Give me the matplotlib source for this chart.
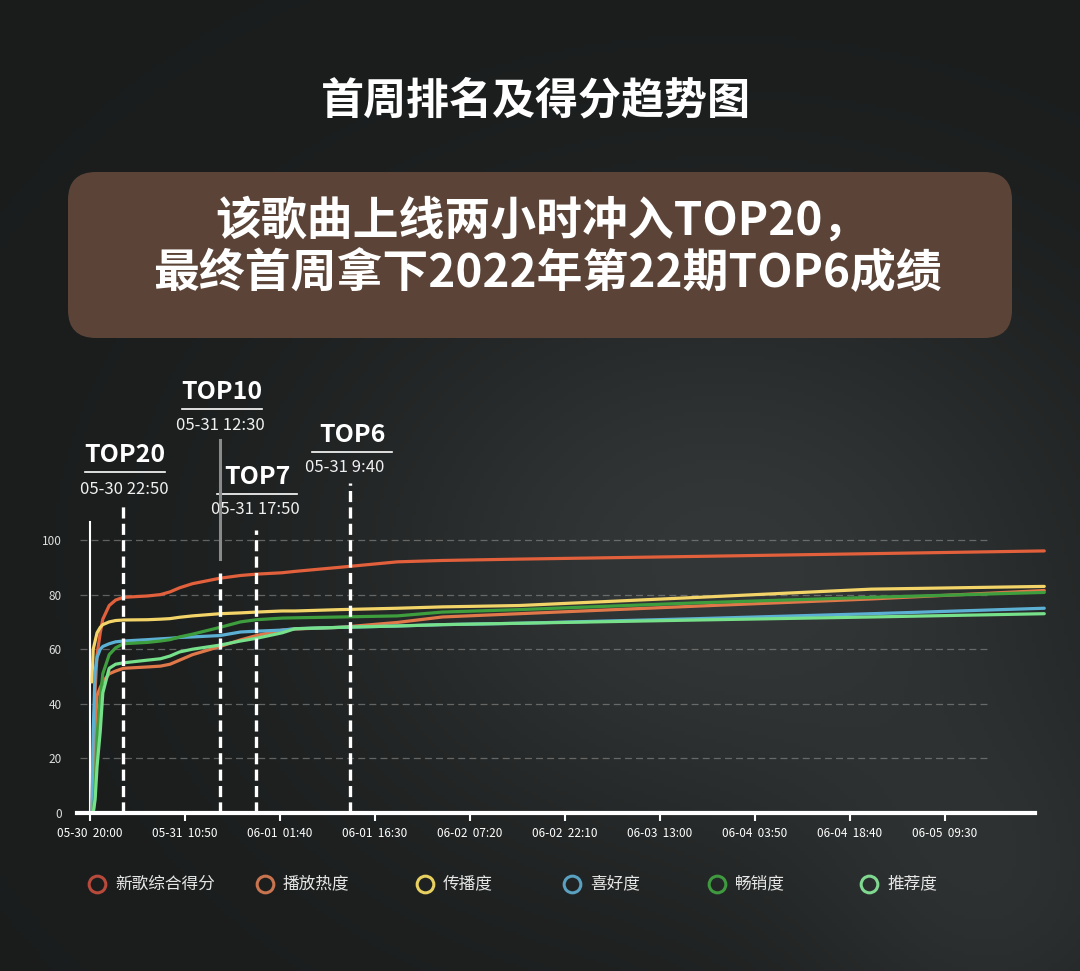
import numpy as np
import matplotlib
matplotlib.use("Agg")
import matplotlib.pyplot as plt
from matplotlib.patches import FancyBboxPatch

plt.rcParams['font.family'] = ['Noto Sans CJK SC', 'DejaVu Sans']
plt.rcParams['lines.scale_dashes'] = False

# hours since 05-30 20:00
hours = [0.3, 0.5, 0.8, 1.1, 1.6, 2.0, 3.0, 4.0, 5.2, 9.0, 11.0, 12.5, 14.0, 16.0,
         20.3, 23.5, 26.0, 30.0, 32.0, 39.0, 48.0, 55.0, 67.0, 95.0, 122.0, 149.0]

zonghe = [0, 22, 45, 58, 66, 71, 76, 78, 79, 79.5, 80, 81, 82.5, 84,
          86, 87, 87.5, 88, 88.5, 90, 92, 92.5, 93, 94, 95, 96]
bofang = [0, 10, 30, 43, 46, 48, 51, 52, 53, 53.5, 53.8, 54.5, 56, 58,
          61, 63.4, 65, 67, 67.4, 68, 69.8, 71.8, 73, 75.8, 78.4, 81.5]
chuanbo = [48, 60, 63, 66, 68, 69, 70, 70.5, 70.7, 70.8, 71, 71.2, 71.7, 72.2,
           73, 73.3, 73.6, 74, 74, 74.5, 75, 75.5, 76, 79, 82, 83]
xihao = [0, 30, 52, 57, 60, 61, 62, 62.7, 63, 63.5, 63.8, 64, 64.3, 64.5,
         65, 66.3, 66.6, 67, 67.5, 68, 68.5, 69, 69.5, 71.2, 73, 75]
changxiao = [0, 0, 8, 28, 42, 51, 58, 60.5, 62, 62.5, 63, 63.5, 64.5, 65.5,
             68, 70, 70.8, 71.4, 71.5, 71.8, 72.2, 73.6, 74.5, 77, 79, 80.8]
tuijian = [0, 0, 5, 17, 30, 44, 53, 54.5, 55, 56, 56.5, 57.5, 59, 60,
           61.5, 63, 64, 66, 67.5, 68, 68.5, 69, 69.5, 70.7, 71.8, 73]

series_names = ["新歌综合得分", "播放热度", "传播度", "喜好度", "畅销度", "推荐度"]
series_values = [zonghe, bofang, chuanbo, xihao, changxiao, tuijian]
line_colors = ["#e2603c", "#e0784a", "#f2d468", "#5cb0d4", "#3e9e3e", "#76e08a"]
legend_colors = ["#b84a3c", "#c8744f", "#e8d060", "#5aa0c0", "#3f9a3f", "#80d890"]

tick_labels = ["05-30  20:00", "05-31  10:50", "06-01  01:40", "06-01  16:30",
               "06-02  07:20", "06-02  22:10", "06-03  13:00", "06-04  03:50",
               "06-04  18:40", "06-05  09:30"]
tick_step = 14 + 50 / 60

# milestones: (hours, title, date text)
milestone_x = [5.2, 20.3, 25.9, 40.6]
milestone_top = ["TOP20", "TOP10", "TOP7", "TOP6"]
milestone_date = ["05-30 22:50", "05-31 12:30", "05-31 17:50", "05-31 9:40"]

W, H = 1080, 971
fig = plt.figure(figsize=(W / 100, H / 100), dpi=100)

# background (pixel coords)
bg = fig.add_axes([0, 0, 1, 1], zorder=0)
bg.set_xlim(0, W)
bg.set_ylim(H, 0)
bg.axis("off")
yy, xx = np.mgrid[0:H:4, 0:W:4]
glow = np.exp(-(((xx - 720) / 380) ** 2 + ((yy - 560) / 300) ** 2))
glow += 0.6 * np.exp(-(((xx - 1000) / 200) ** 2 + ((yy - 900) / 200) ** 2))
base = np.array([0.105, 0.113, 0.113])
light = np.array([0.20, 0.215, 0.215])
img = base + np.clip(glow, 0, 1)[..., None] * (light - base)
bg.imshow(img, extent=[0, W, H, 0], aspect="auto", zorder=0)

box = FancyBboxPatch((68, 172), 944, 166, boxstyle="round,pad=0,rounding_size=28",
                     facecolor="#5b4437", edgecolor="none", zorder=1)
bg.add_patch(box)

bg.text(536, 100, "首周排名及得分趋势图", color="white", fontsize=31,
        fontweight="bold", ha="center", va="center", zorder=2)
bg.text(542, 222, "该歌曲上线两小时冲入TOP20，", color="white", fontsize=33,
        fontweight="bold", ha="center", va="center", zorder=2)
bg.text(547, 274, "最终首周拿下2022年第22期TOP6成绩", color="white", fontsize=33,
        fontweight="bold", ha="center", va="center", zorder=2)

# milestone labels (pixel layout)
label_pos = [(125, 455), (222, 392), (257, 477), (352, 435)]
date_pos = [(124, 490), (220, 425), (255, 510), (345, 468)]
for (lx, ly), (dx, dy), top, date in zip(label_pos, date_pos, milestone_top, milestone_date):
    bg.text(lx, ly, top, color="white", fontsize=18, fontweight="bold",
            ha="center", va="center", zorder=2)
    bg.plot([lx - 40, lx + 40], [ly + 17, ly + 17], color="white", lw=1.2, zorder=2)
    bg.text(dx, dy, date, color="#f0f0f0", fontsize=12, ha="center", va="center", zorder=2)

# legend
ring_x = [97, 265, 425, 572, 717, 869]
for rx, name, col in zip(ring_x, series_names, legend_colors):
    bg.plot(rx, 884, marker="o", markersize=12, markerfacecolor="none",
            markeredgecolor=col, markeredgewidth=2.2, zorder=2)
    bg.text(rx + 18, 884, name, color="#e6e6e6", fontsize=12, ha="left",
            va="center", zorder=2)

# chart
px_per_h = 95 / tick_step
ax_left, ax_right, ax_top, ax_bot = 70, 1050, 520, 813
ax = fig.add_axes([ax_left / W, 1 - ax_bot / H, (ax_right - ax_left) / W,
                   (ax_bot - ax_top) / H], zorder=3)
ax.patch.set_alpha(0)
x0 = (ax_left - 90) / px_per_h
x1 = (ax_right - 90) / px_per_h
ymax = (ax_bot - ax_top) / 2.73
ax.set_xlim(x0, x1)
ax.set_ylim(0, ymax)

for yv in [20, 40, 60, 80, 100]:
    ax.plot([-1.6, 140], [yv, yv], color="#9a9a9a", lw=0.9, alpha=0.55,
            linestyle=(0, (5, 3)))

ax.plot([0, 0], [0, 106.6], color="white", lw=1.5, clip_on=False)

for vals, col in zip(series_values, line_colors):
    ax.plot(hours, vals, color=col, lw=2.3, solid_capstyle="round",
            solid_joinstyle="round", clip_on=False)

# milestone dashed lines
tops = [113.5, 88, 103.7, 120.9]
for mx, t in zip(milestone_x, tops):
    ax.plot([mx, mx], [0, t], color="white", lw=2.4, linestyle=(0, (8, 3.8)),
            clip_on=False)
ax.plot([milestone_x[1]] * 2, [93, 136.6], color="#8a8a8a", lw=2.2, clip_on=False)

for s in ["top", "right", "left"]:
    ax.spines[s].set_visible(False)
ax.spines["bottom"].set_color("white")
ax.spines["bottom"].set_linewidth(3)
ax.spines["bottom"].set_bounds(-2.0, (1035 - 90) / px_per_h)

ax.set_xticks([i * tick_step for i in range(len(tick_labels))])
ax.set_xticklabels(tick_labels, color="white", fontsize=8.5)
ax.tick_params(axis="x", length=6, width=1.5, color="white", pad=4)
ax.set_yticks([0, 20, 40, 60, 80, 100])
ax.set_yticklabels(["0", "20", "40", "60", "80", "100"], color="#dddddd", fontsize=8.5)
ax.tick_params(axis="y", length=0, pad=6)

fig.savefig("out.png", dpi=100, facecolor=fig.get_facecolor())
